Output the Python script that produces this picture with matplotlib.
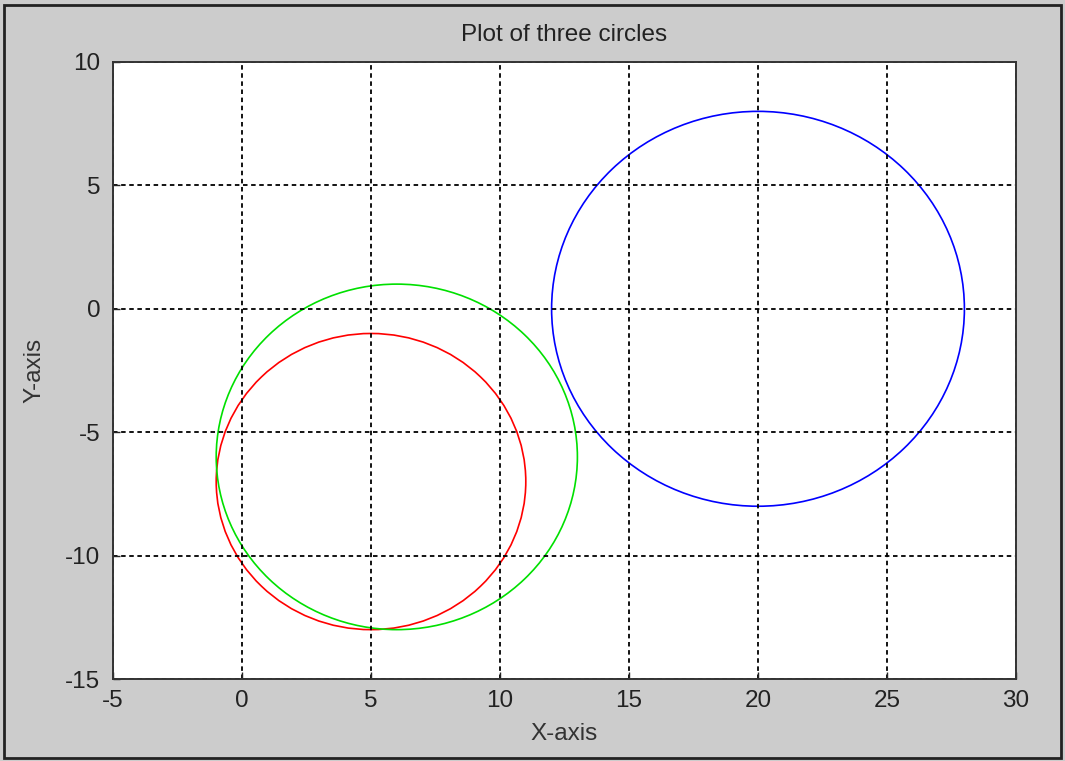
import matplotlib.pyplot as plt
from matplotlib.patches import Circle, Rectangle

# Circle data
centers_x = [5, 6, 20]
centers_y = [-7, -6, 0]
radii = [6, 7, 8]
colors = ["#ff0000", "#00e000", "#0000ff"]

x_ticks = [-5, 0, 5, 10, 15, 20, 25, 30]
y_ticks = [-15, -10, -5, 0, 5, 10]

plt.rcParams["font.family"] = ["Liberation Sans", "DejaVu Sans"]
plt.rcParams["axes.unicode_minus"] = False

fig = plt.figure(figsize=(10.65, 7.61), dpi=100, facecolor="#cccccc")
ax = fig.add_axes([113 / 1065, 1 - 679 / 761, (1016 - 113) / 1065, (679 - 62) / 761])
ax.set_facecolor("white")

for cx, cy, r, c in zip(centers_x, centers_y, radii, colors):
    ax.add_patch(Circle((cx, cy), r, fill=False, edgecolor=c, linewidth=1.2))

ax.set_xlim(-5, 30)
ax.set_ylim(-15, 10)
ax.set_xticks(x_ticks)
ax.set_yticks(y_ticks)
ax.tick_params(direction="in", length=5, width=1, labelsize=17.5, colors="#222222")
ax.tick_params(axis="x", pad=8)
ax.tick_params(axis="y", pad=9)
ax.grid(True, color="black", linestyle=(0, (2.5, 2)), linewidth=1.3)
for s in ax.spines.values():
    s.set_linewidth(1.4)
    s.set_color("#333333")

ax.set_title("Plot of three circles", fontsize=17.5, pad=15, color="#222222")
ax.set_xlabel("X-axis", fontsize=17.5, labelpad=8, color="#333333")
ax.set_ylabel("Y-axis", fontsize=17.5, labelpad=14, color="#333333")

# window border
fig.patches.append(Rectangle((4 / 1065, 3 / 761), 1 - 8 / 1065, 1 - 8 / 761,
                             transform=fig.transFigure, fill=False,
                             edgecolor="#222222", linewidth=2))

fig.savefig("out.png", dpi=100, facecolor=fig.get_facecolor())
